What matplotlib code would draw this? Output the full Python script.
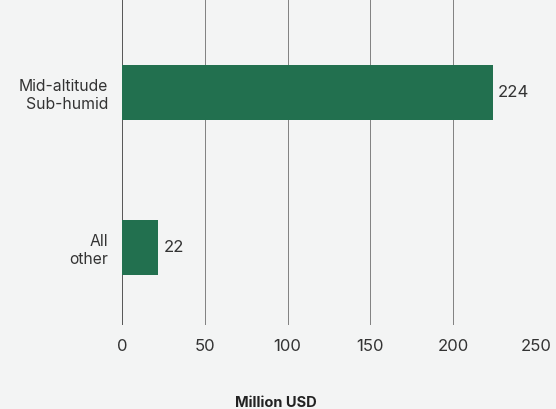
import matplotlib.pyplot as plt

categories = ["Mid-altitude\nSub-humid", "All\nother"]
values = [224, 22]
ticks = [0, 50, 100, 150, 200, 250]

plt.rcParams['font.family'] = ['Inter', 'DejaVu Sans']

bg = '#f3f4f4'
fig = plt.figure(figsize=(5.56, 4.09), dpi=100, facecolor=bg)
ax = fig.add_axes([0.2194, 0.2054, 0.7446, 0.7946], facecolor=bg)

pos = list(range(len(categories)))
ax.barh(pos, values, height=0.355, color='#22704f', zorder=3)
for p, v in zip(pos, values):
    ax.text(v + 3, p, str(v), va='center', ha='left', fontsize=12, color='#333333')

for t in ticks:
    ax.axvline(t, color='#555555' if t == 0 else '#808080', lw=0.7, zorder=1)

ax.set_xlim(0, 250)
ax.set_ylim(1.503, -0.594)
ax.set_xticks(ticks)
ax.set_xticklabels([str(t) for t in ticks], fontsize=12, color='#333333')
ax.set_yticks(pos)
ax.set_yticklabels(categories, fontsize=11.3, color='#333333', ha='right',
                   linespacing=1.3)
ax.tick_params(axis='both', length=0)
ax.tick_params(axis='x', pad=10)
ax.tick_params(axis='y', pad=10)
for s in ax.spines.values():
    s.set_visible(False)

fig.text(0.497, 0.015, "Million USD", ha='center', va='center', fontsize=10.5,
         fontweight='bold', color='#222222')

fig.savefig('out.png', dpi=100, facecolor=bg)
